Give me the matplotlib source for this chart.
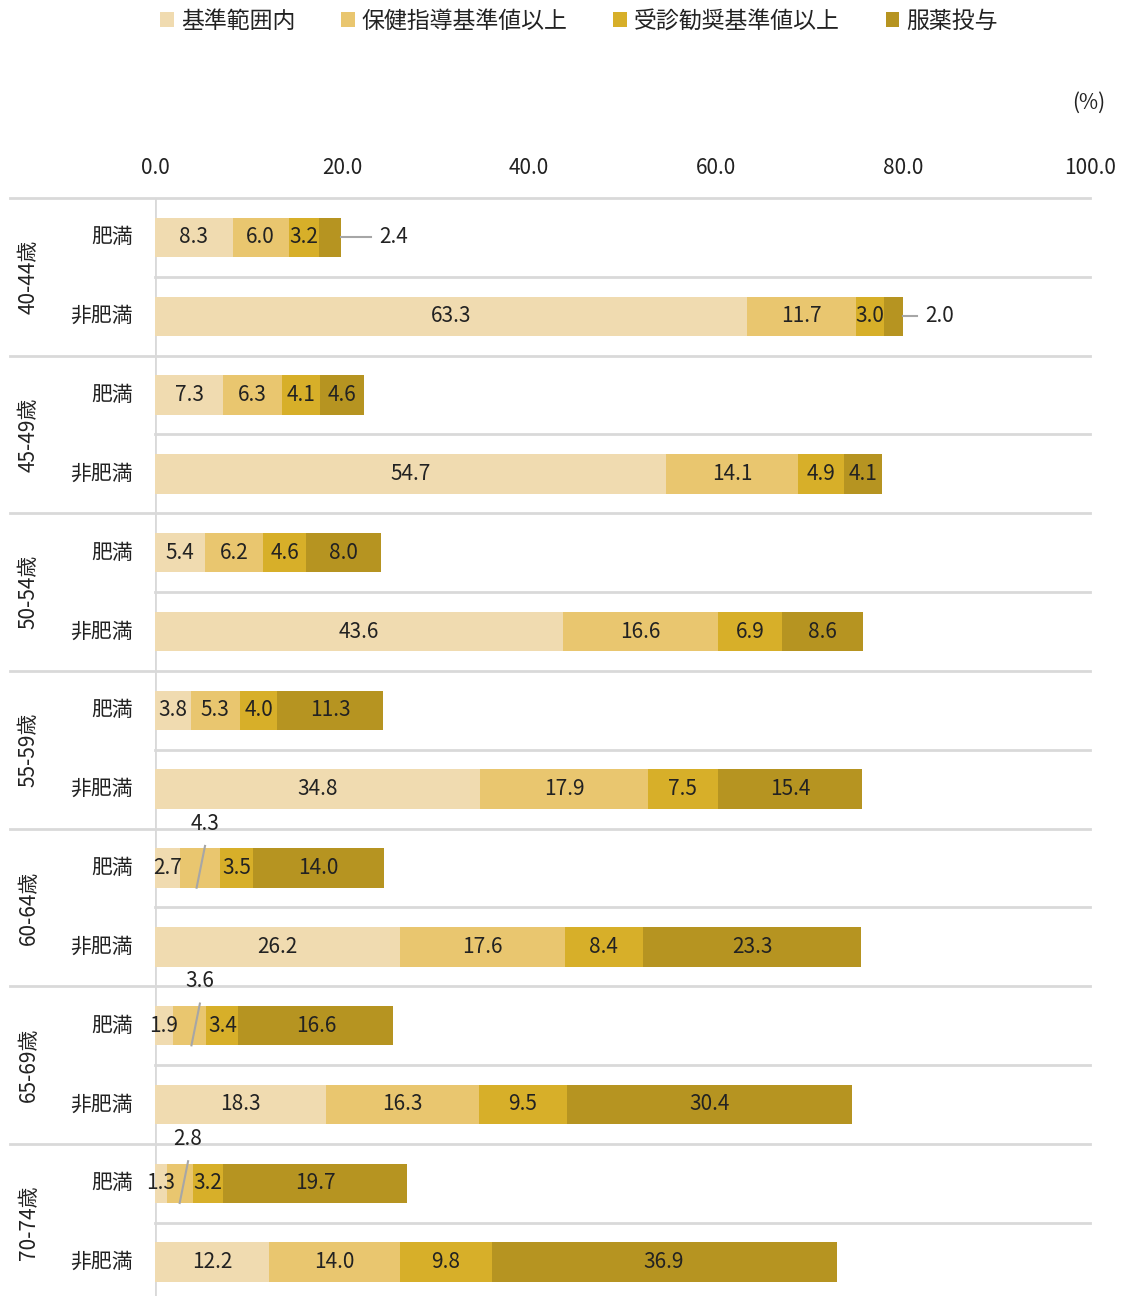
import numpy as np
import matplotlib
matplotlib.use("Agg")
import matplotlib.pyplot as plt
from matplotlib.transforms import blended_transform_factory
from matplotlib.patches import Patch

plt.rcParams['font.family'] = ['Noto Sans CJK JP', 'DejaVu Sans']

# data
age_groups = ['40-44歳', '45-49歳', '50-54歳', '55-59歳', '60-64歳', '65-69歳', '70-74歳']
row_kinds = ['肥満', '非肥満']
series_names = ['基準範囲内', '保健指導基準値以上', '受診勧奨基準値以上', '服薬投与']

obese = [
    [8.3, 6.0, 3.2, 2.4],
    [7.3, 6.3, 4.1, 4.6],
    [5.4, 6.2, 4.6, 8.0],
    [3.8, 5.3, 4.0, 11.3],
    [2.7, 4.3, 3.5, 14.0],
    [1.9, 3.6, 3.4, 16.6],
    [1.3, 2.8, 3.2, 19.7],
]
non_obese = [
    [63.3, 11.7, 3.0, 2.0],
    [54.7, 14.1, 4.9, 4.1],
    [43.6, 16.6, 6.9, 8.6],
    [34.8, 17.9, 7.5, 15.4],
    [26.2, 17.6, 8.4, 23.3],
    [18.3, 16.3, 9.5, 30.4],
    [12.2, 14.0, 9.8, 36.9],
]
x_ticks = [0, 20, 40, 60, 80, 100]

colors = ['#F0DBB0', '#E9C66F', '#D7AF29', '#B69421']

# rows: (group, kind) interleaved
rows = []
for g in range(len(age_groups)):
    rows.append(obese[g])
    rows.append(non_obese[g])
rows = np.array(rows)

# labels drawn outside the bar: row index -> (segment, line length, text offset)
callouts_right = {0: (3, 3.2, 5.6), 1: (3, 1.5, 3.9)}
# labels lifted above the bar with a slanted leader: row index -> x shift
callouts_above = {8: 0.5, 10: 1.1, 12: 0.84}

W, H = 1121, 1296
fig = plt.figure(figsize=(W / 100, H / 100), dpi=100)
ax = fig.add_axes([155 / W, 0, (1090 - 155) / W, (1296 - 198) / H])

bar_h = 0.5
y = np.arange(len(rows))
left = np.zeros(len(rows))
for j in range(4):
    ax.barh(y, rows[:, j], left=left, height=bar_h, color=colors[j], edgecolor='none', zorder=3)
    for i in range(len(rows)):
        v = rows[i, j]
        cx = left[i] + v / 2
        if i in callouts_right and callouts_right[i][0] == j:
            _, ln, tx = callouts_right[i]
            end = left[i] + v
            ax.plot([end, end + ln], [i, i], color='#a6a6a6', lw=1.5, zorder=4)
            ax.text(end + tx, i, f'{v:.1f}', ha='center', va='center', fontsize=15, color='#222222')
        elif i in callouts_above and j == 1:
            dx = callouts_above[i]
            ax.plot([cx + dx, cx + dx - 0.9], [i - 0.28, i + 0.25], color='#a6a6a6', lw=1.5, zorder=4)
            ax.text(cx + dx, i - 0.56, f'{v:.1f}', ha='center', va='center', fontsize=15, color='#222222')
        else:
            ax.text(cx, i, f'{v:.1f}', ha='center', va='center', fontsize=15, color='#222222', zorder=5)
    left += rows[:, j]

ax.set_xlim(0, 100)
ax.set_ylim(13.43, -0.5)
ax.xaxis.tick_top()
ax.set_xticks(x_ticks)
ax.set_xticklabels([f'{t:.1f}' for t in x_ticks], fontsize=15, color='#222222')
ax.tick_params(axis='x', length=0, pad=14)
ax.set_yticks([])
for s in ax.spines.values():
    s.set_visible(False)

# grid lines
trans = blended_transform_factory(ax.transAxes, ax.transData)
for k in range(len(rows) + 1):
    yy = k - 0.5
    x0 = -0.155 if k % 2 == 0 else 0
    ax.plot([x0, 1], [yy, yy], transform=trans, color='#d9d9d9', lw=2, clip_on=False, zorder=1)
ax.axvline(0, color='#d9d9d9', lw=2, zorder=2)

# row labels
for i in range(len(rows)):
    ax.text(-0.0236, i, row_kinds[i % 2], transform=trans, ha='right', va='center',
            fontsize=15, color='#222222')
for g, name in enumerate(age_groups):
    ax.text(-0.135, 2 * g + 0.5, name, transform=trans, ha='center', va='center',
            rotation=90, fontsize=15, color='#222222', clip_on=False)

fig.text(1089 / W, 1 - 103 / H, '(%)', ha='center', va='center', fontsize=15, color='#222222')

handles = [Patch(facecolor=c, edgecolor='none') for c in colors]
fig.legend(handles, series_names, loc='center', bbox_to_anchor=(579 / W, 1 - 21 / H), ncol=4,
           frameon=False, fontsize=16.5, handlelength=0.6, handleheight=0.6,
           handletextpad=0.3, columnspacing=2.0, labelcolor='#222222')

fig.savefig('out.png', dpi=100)
